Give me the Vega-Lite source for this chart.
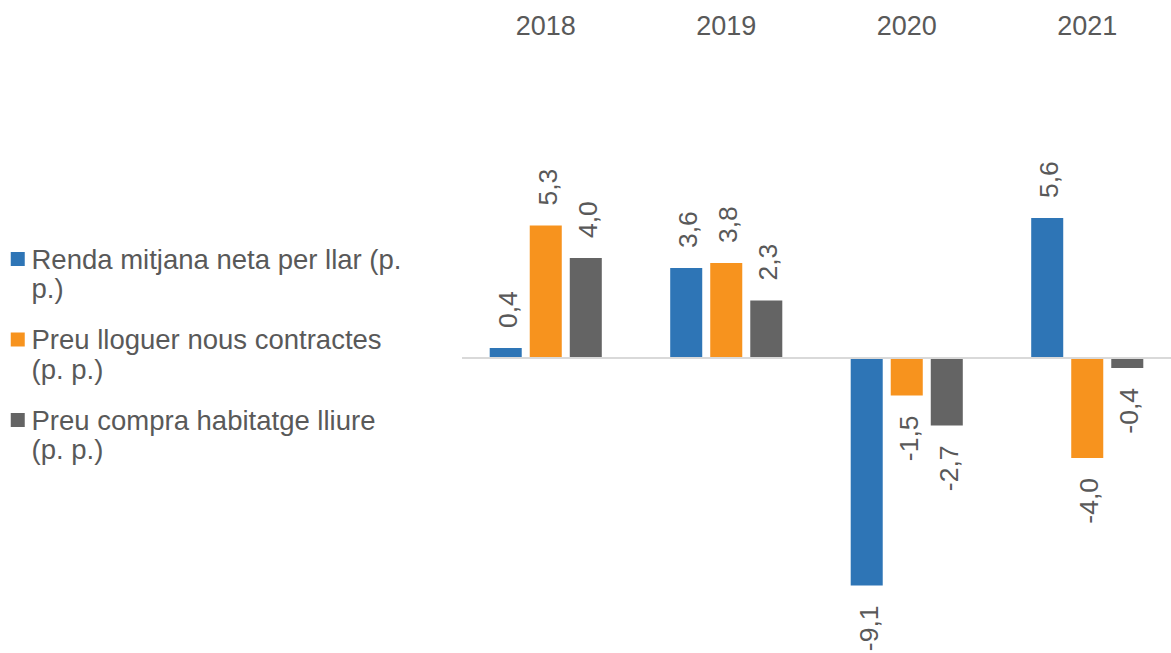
{
  "$schema": "https://vega.github.io/schema/vega-lite/v6.json",
  "width": 709,
  "height": 595,
  "autosize": {"type": "none"},
  "padding": {"left": 462, "top": 58, "right": 0, "bottom": 0},
  "background": "white",
  "config": {
    "view": {"stroke": null},
    "font": "Liberation Sans",
    "locale": {"number": {"decimal": ",", "thousands": ".", "grouping": [3], "currency": ["", " €"], "minus": "-"}}
  },
  "data": {
    "values": [
      {"any": "2018", "serie": "Renda mitjana neta per llar (p. p.)", "valor": 0.4},
      {"any": "2018", "serie": "Preu lloguer nous contractes (p. p.)", "valor": 5.3},
      {"any": "2018", "serie": "Preu compra habitatge lliure (p. p.)", "valor": 4.0},
      {"any": "2019", "serie": "Renda mitjana neta per llar (p. p.)", "valor": 3.6},
      {"any": "2019", "serie": "Preu lloguer nous contractes (p. p.)", "valor": 3.8},
      {"any": "2019", "serie": "Preu compra habitatge lliure (p. p.)", "valor": 2.3},
      {"any": "2020", "serie": "Renda mitjana neta per llar (p. p.)", "valor": -9.1},
      {"any": "2020", "serie": "Preu lloguer nous contractes (p. p.)", "valor": -1.5},
      {"any": "2020", "serie": "Preu compra habitatge lliure (p. p.)", "valor": -2.7},
      {"any": "2021", "serie": "Renda mitjana neta per llar (p. p.)", "valor": 5.6},
      {"any": "2021", "serie": "Preu lloguer nous contractes (p. p.)", "valor": -4.0},
      {"any": "2021", "serie": "Preu compra habitatge lliure (p. p.)", "valor": -0.4}
    ]
  },
  "layer": [
    {
      "mark": {"type": "bar"},
      "encoding": {
        "x": {"field": "any", "type": "nominal", "scale": {"paddingInner": 0.379, "paddingOuter": 0.1535},
              "axis": {"orient": "top", "title": null, "ticks": false, "tickSize": 0, "domain": false, "labelFontSize": 27, "labelColor": "#595959", "labelPadding": 18, "labelAngle": 0, "labelFont": "Liberation Sans"}},
        "xOffset": {"field": "serie", "type": "nominal",
                    "sort": ["Renda mitjana neta per llar (p. p.)", "Preu lloguer nous contractes (p. p.)", "Preu compra habitatge lliure (p. p.)"],
                    "scale": {"paddingInner": 0.2, "paddingOuter": 0}},
        "y": {"field": "valor", "type": "quantitative", "scale": {"domain": [-11.8, 12], "nice": false, "zero": false}, "axis": null},
        "color": {
          "field": "serie", "type": "nominal",
          "scale": {"domain": ["Renda mitjana neta per llar (p. p.)", "Preu lloguer nous contractes (p. p.)", "Preu compra habitatge lliure (p. p.)"],
                    "range": ["#2E75B6", "#F7931E", "#646464"]},
          "legend": {
            "orient": "none", "legendX": -458, "legendY": 175, "title": null, "padding": 0,
            "labelFontSize": 27.5, "labelColor": "#595959", "labelFont": "Liberation Sans",
            "symbolType": "M-1,0.75H1V2.75H-1Z", "symbolSize": 196, "symbolStrokeWidth": 0, "symbolOpacity": 1,
            "labelBaseline": "top", "labelOffset": 0, "labelLimit": 0, "rowPadding": 9.5,
            "labelExpr": "datum.value == 'Renda mitjana neta per llar (p. p.)' ? ['Renda mitjana neta per llar (p.', 'p.)'] : [replace(datum.value, ' (p. p.)', ''), '(p. p.)']"
          }
        }
      }
    },
    {
      "data": {"values": [{"zero": 0}]},
      "mark": {"type": "rule", "color": "#d9d9d9", "strokeWidth": 2},
      "encoding": {"y": {"field": "zero", "type": "quantitative"}}
    },
    {
      "transform": [{"filter": "datum.valor >= 0"}],
      "mark": {"type": "text", "angle": 270, "align": "left", "baseline": "middle", "dx": 20, "dy": 3, "fontSize": 26.5, "color": "#595959", "font": "Liberation Sans"},
      "encoding": {
        "x": {"field": "any", "type": "nominal"},
        "xOffset": {"field": "serie", "type": "nominal", "sort": ["Renda mitjana neta per llar (p. p.)", "Preu lloguer nous contractes (p. p.)", "Preu compra habitatge lliure (p. p.)"]},
        "y": {"field": "valor", "type": "quantitative"},
        "text": {"field": "valor", "type": "quantitative", "format": ".1f"}
      }
    },
    {
      "transform": [{"filter": "datum.valor < 0"}],
      "mark": {"type": "text", "angle": 270, "align": "right", "baseline": "middle", "dx": -20, "dy": 3, "fontSize": 26.5, "color": "#595959", "font": "Liberation Sans"},
      "encoding": {
        "x": {"field": "any", "type": "nominal"},
        "xOffset": {"field": "serie", "type": "nominal", "sort": ["Renda mitjana neta per llar (p. p.)", "Preu lloguer nous contractes (p. p.)", "Preu compra habitatge lliure (p. p.)"]},
        "y": {"field": "valor", "type": "quantitative"},
        "text": {"field": "valor", "type": "quantitative", "format": ".1f"}
      }
    }
  ]
}
